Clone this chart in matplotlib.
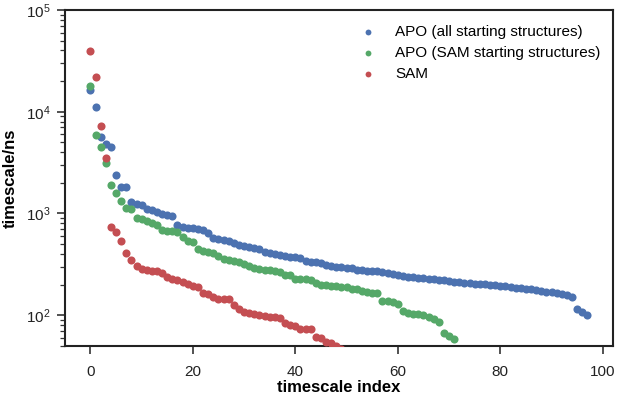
import matplotlib
matplotlib.use("Agg")
import matplotlib.pyplot as plt
import numpy as np

apo_all = [16300, 11000, 5700, 4800, 4450, 2400, 1830, 1800, 1300, 1230,
           1200, 1110, 1080, 1030, 995, 970, 935, 775, 730, 715,
           712, 703, 688, 646, 570, 556, 543, 532, 515, 490,
           475, 467, 457, 447, 417, 408, 396, 387, 378, 375,
           370, 364, 338, 336, 334, 327, 310, 303, 298, 296,
           293, 288, 280, 277, 275, 273, 270, 266, 258, 252,
           248, 243, 240, 237, 234, 231, 229, 226, 222, 220,
           218, 214, 211, 208, 207, 205, 204, 202, 200, 197,
           195, 192, 189, 186, 185, 182, 179, 177, 174, 171,
           169, 165, 160, 157, 151, 114, 107, 101]

apo_sam = [18000, 5860, 4530, 3100, 1900, 1577, 1325, 1130, 1105, 905,
           880, 848, 800, 769, 687, 678, 665, 661, 590, 535,
           520, 446, 427, 417, 408, 380, 358, 348, 343, 330,
           318, 303, 290, 285, 281, 277, 272, 264, 251, 247,
           229, 227, 225, 221, 208, 200, 198, 195, 194, 190,
           188, 183, 179, 174, 168, 166, 164, 139, 137, 134,
           129, 110, 106, 102, 102, 100, 96, 91, 85, 67,
           62, 59]

sam = [39500, 21800, 7230, 3480, 740, 661, 539, 411, 348, 306,
       284, 277, 272, 272, 261, 239, 228, 221, 213, 205,
       193, 188, 166, 161, 152, 146, 144, 143, 126, 115,
       108, 104, 103, 101, 98.6, 95, 95, 93, 84, 81,
       78, 74, 73, 73, 61, 60, 54.7, 52.8, 49.7, 47, 45]

labels = ["APO (all starting structures)", "APO (SAM starting structures)", "SAM"]
colors = ["#4C72B0", "#55A868", "#C44E52"]

plt.rcParams['font.family'] = ['Liberation Sans', 'DejaVu Sans']
plt.rcParams['mathtext.fontset'] = 'custom'
plt.rcParams['mathtext.rm'] = 'Liberation Sans'
plt.rcParams['mathtext.it'] = 'Liberation Sans:italic'
plt.rcParams['mathtext.bf'] = 'Liberation Sans:bold'

fig = plt.figure(figsize=(6.17, 3.98), dpi=100)
ax = fig.add_axes([0.105, 0.131, 0.8885, 0.844])

for data, lab, col in zip([apo_all, apo_sam, sam], labels, colors):
    ax.scatter(np.arange(len(data)), data, s=34, color=col, label=lab,
               linewidths=0, zorder=3)

ax.set_yscale('log')
ax.set_xlim(-5, 102)
ax.set_ylim(50, 1e5)
ax.set_xticks([0, 20, 40, 60, 80, 100])

for sp in ax.spines.values():
    sp.set_linewidth(1.5)
    sp.set_color('#222222')

ax.tick_params(axis='both', which='major', direction='out', length=6, width=1.2,
               labelsize=11, color='#333333', labelcolor='#222222')
ax.tick_params(axis='x', which='major', pad=7.5)
ax.tick_params(axis='y', which='major', pad=4)
ax.tick_params(axis='y', which='minor', direction='out', length=3.5, width=0.9,
               color='#333333')
ax.tick_params(top=False, right=False, which='both')

ax.set_xlabel('timescale index', fontsize=12, fontweight='bold', labelpad=1)
ax.set_ylabel('timescale/ns', fontsize=12, fontweight='bold', labelpad=6)

leg = ax.legend(loc='upper right', frameon=False, fontsize=11, markerscale=0.72,
                handletextpad=0.77, labelspacing=0.46, bbox_to_anchor=(1.002, 0.997))

fig.savefig('out.png', dpi=100)
